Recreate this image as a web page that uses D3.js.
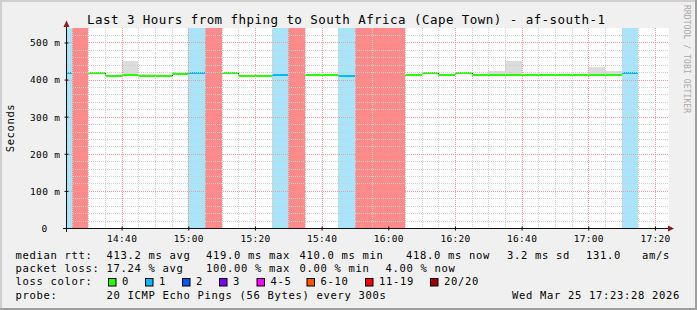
<!DOCTYPE html>
<html><head><meta charset="utf-8">
<script src="https://cdn.jsdelivr.net/npm/d3@7/dist/d3.min.js"></script>
<style>
body{margin:0;background:#f0f0f0;overflow:hidden}
text{font-family:"DejaVu Sans Mono",monospace;white-space:pre}
</style>
</head><body>
<svg id="c" width="697" height="310"></svg>
<script>
// ---------------- data ----------------
const titleText = "Last 3 Hours from fhping to South Africa (Cape Town) - af-south-1";
const yTitle = "Seconds";
const viewStart = Date.UTC(2026, 2, 25, 14, 23, 28);
const viewEnd = Date.UTC(2026, 2, 25, 17, 23, 28);
const firstStep = Date.UTC(2026, 2, 25, 14, 20, 0);
const stepMinutes = 5;
// median RTT per 5-minute step (ms); null = no data
const medianMs = [419, null, 419, 410, 412, 410, 410, 414, 417, null, 419, 410, 410, 412, null, 412, 412, 410, null, null, null, 412, 419, 412, 419, 412, 412, 412, 412, 412, 412, 412, 412, 412, 418, null, null];
// lost pings (of 20) per step
const lossCount = [1, 20, 0, 0, 0, 0, 0, 0, 1, 20, 0, 0, 0, 1, 20, 0, 0, 1, 20, 20, 20, 0, 0, 0, 0, 0, 0, 0, 0, 0, 0, 0, 0, 0, 1, null, null];
// upper edge of smoke per step (ms)
const smokeMaxMs = [null, null, null, null, 451, 414, null, null, null, null, null, 413, null, null, null, 414, null, null, null, null, null, null, null, null, null, null, 422, 450, null, null, null, null, 433, 422, null, null, null];
const yMaxMs = 539;
const yTickValues = [0, 100, 200, 300, 400, 500];
const yTickLabels = ["0", "100 m", "200 m", "300 m", "400 m", "500 m"];
const xTickLabels = ["14:40", "15:00", "15:20", "15:40", "16:00", "16:20", "16:40", "17:00", "17:20"];
const rttLabel = "median rtt:";
const rttStats = ["413.2 ms avg", "419.0 ms max", "410.0 ms min", "418.0 ms now", "3.2 ms sd", "131.0   am/s"];
const lossLabel = "packet loss:";
const lossStats = ["17.24 % avg", "100.00 % max", "0.00 % min", "4.00 % now"];
const lossColorLabel = "loss color:";
const lossBucketLabels = ["0", "1", "2", "3", "4-5", "6-10", "11-19", "20/20"];
const probeLabel = "probe:";
const probeText = "20 ICMP Echo Pings (56 Bytes) every 300s";
const stampText = "Wed Mar 25 17:23:28 2026";
const watermark = "RRDTOOL / TOBI OETIKER";

// ---------------- styles ----------------
const lossColors = ["#26ff00", "#00b8ff", "#0059ff", "#7e00ff", "#ff00ff", "#ff5500", "#ff0000", "#a10000"];
const bandColors = {1: "#a8e5fa", 20: "#ff8a8a"};
function bucket(l){ if(l<=3) return l; if(l<=5) return 4; if(l<=10) return 5; if(l<=19) return 6; return 7; }

const svg = d3.select("#c");
const L = 67, R = 669, T = 28, B = 228;

// background + 3D frame
svg.append("rect").attr("width",697).attr("height",310).attr("fill","#f0f0f0");
svg.append("rect").attr("x",0).attr("y",0).attr("width",697).attr("height",2).attr("fill","#cfcfcf");
svg.append("rect").attr("x",0).attr("y",0).attr("width",2).attr("height",310).attr("fill","#cfcfcf");
svg.append("rect").attr("x",0).attr("y",308).attr("width",697).attr("height",2).attr("fill","#9e9e9e");
svg.append("rect").attr("x",695).attr("y",0).attr("width",2).attr("height",310).attr("fill","#9e9e9e");

// canvas
svg.append("rect").attr("x",L).attr("y",T).attr("width",R-L).attr("height",B-T).attr("fill","#ffffff");

const x = d3.scaleUtc().domain([viewStart, viewEnd]).range([66.5, 666.5]);
const y = d3.scaleLinear().domain([0, yMaxMs]).range([B, T]);

svg.append("clipPath").attr("id","pc").append("rect").attr("x",L).attr("y",T).attr("width",R-L).attr("height",B-T);
const plot = svg.append("g").attr("clip-path","url(#pc)");

const steps = medianMs.map((m,i)=>({
  t0: firstStep + i*stepMinutes*60000,
  t1: firstStep + (i+1)*stepMinutes*60000,
  m, loss: lossCount[i], smoke: smokeMaxMs[i]
}));
const px = t => Math.round(x(t));

// loss bands
plot.selectAll("rect.band").data(steps.filter(d=>d.loss!=null && bandColors[d.loss]))
  .join("rect").attr("class","band")
  .attr("x", d=>px(d.t0)).attr("width", d=>px(d.t1)-px(d.t0))
  .attr("y",T).attr("height",B-T).attr("fill", d=>bandColors[d.loss]);

// smoke
plot.selectAll("rect.smoke").data(steps.filter(d=>d.smoke!=null && d.m!=null))
  .join("rect").attr("class","smoke")
  .attr("x", d=>px(d.t0)).attr("width", d=>px(d.t1)-px(d.t0))
  .attr("y", d=>Math.round(y(d.smoke))).attr("height", d=>Math.round(y(d.m))-Math.round(y(d.smoke)))
  .attr("fill","#dcdcdc");

// grid
const grid = svg.append("g");
for(let t = Date.UTC(2026,2,25,14,25,0); t <= viewEnd; t += 5*60000){
  const major = (new Date(t).getUTCMinutes() % 20) === 0;
  const gx = px(t)+0.5;
  grid.append("line").attr("x1",gx).attr("x2",gx).attr("y1",T).attr("y2",B)
    .attr("stroke", major ? "#f29a9a" : "#cfcfcf").attr("stroke-dasharray","1,1");
}
for(let v = 20; v <= yMaxMs; v += 20){
  const major = v % 100 === 0;
  const gy = Math.round(y(v))+0.5;
  grid.append("line").attr("x1",L).attr("x2",R).attr("y1",gy).attr("y2",gy)
    .attr("stroke", major ? "#f29a9a" : "#cfcfcf").attr("stroke-dasharray","1,1");
}

// median line: vertical connectors then coloured steps
const lines = plot.append("g");
for(let i=1;i<steps.length;i++){
  const a = steps[i-1], b = steps[i];
  if(a.m!=null && b.m!=null && a.m!==b.m){
    const vx = px(b.t0)+0.5;
    lines.append("line").attr("x1",vx).attr("x2",vx)
      .attr("y1",Math.round(y(a.m))).attr("y2",Math.round(y(b.m)))
      .attr("stroke","#333").attr("stroke-width",1);
  }
}
lines.selectAll("line.med").data(steps.filter(d=>d.m!=null))
  .join("line").attr("class","med")
  .attr("x1", d=>px(d.t0)).attr("x2", d=>px(d.t1))
  .attr("y1", d=>Math.round(y(d.m))).attr("y2", d=>Math.round(y(d.m)))
  .attr("stroke", d=>lossColors[bucket(d.loss)]).attr("stroke-width",2);

// axes lines + arrows
const axisColor = "#101010", arrowColor = "#8e1b1b";
svg.append("line").attr("x1",63).attr("x2",670).attr("y1",B+0.5).attr("y2",B+0.5).attr("stroke",axisColor);
svg.append("line").attr("x1",66.5).attr("x2",66.5).attr("y1",B+4).attr("y2",24).attr("stroke",axisColor);
svg.append("path").attr("d",`M${668},${B-2.5} L${674},${B+0.5} L${668},${B+3.5} Z`).attr("fill",arrowColor);
svg.append("path").attr("d",`M${63.5},${27} L${66.5},${20.5} L${69.5},${27} Z`).attr("fill",arrowColor);

// x axis
const xTickDates = xTickLabels.map(s=>{const [h,m]=s.split(":").map(Number); return Date.UTC(2026,2,25,h,m,0);});
const xa = svg.append("g").attr("transform",`translate(0,${B+0.5})`)
  .call(d3.axisBottom(x).tickValues(xTickDates).tickSize(2).tickPadding(0)
    .tickFormat((d,i)=>xTickLabels[i]));
xa.select(".domain").remove();
xa.selectAll(".tick line").attr("stroke",axisColor).attr("y1",-2).attr("y2",2);
xa.selectAll(".tick text").attr("y",13).attr("dy",0)
  .attr("font-family","DejaVu Sans Mono").attr("font-size","9.5px").attr("letter-spacing","0.3px").attr("fill","#000");

// y axis
const ya = svg.append("g").attr("transform",`translate(66.5,0)`)
  .call(d3.axisLeft(y).tickValues(yTickValues).tickSize(2).tickPadding(0)
    .tickFormat((d,i)=>yTickLabels[i]));
ya.select(".domain").remove();
ya.selectAll(".tick line").attr("stroke",axisColor).attr("x1",-2).attr("x2",2);
ya.selectAll(".tick text").attr("x", d=> d===0 ? -19 : -6).attr("dy","0.36em")
  .attr("font-family","DejaVu Sans Mono").attr("font-size","9.5px").attr("letter-spacing","0.4px").attr("fill","#000");

// texts
function txt(s, tx, ty, size, ls, extra){
  const t = svg.append("text").attr("x",tx).attr("y",ty).attr("font-size",size+"px")
    .attr("letter-spacing",ls+"px").attr("fill","#000").text(s);
  if(extra) extra(t);
  return t;
}
txt(titleText, 87, 23.5, 12.5, 0.45);
svg.append("text").attr("transform","translate(14,128) rotate(-90)").attr("text-anchor","middle")
  .attr("font-size","10.5px").attr("letter-spacing","0.6px").attr("fill","#000").text(yTitle);
svg.append("text").attr("transform","translate(684,5) rotate(90)")
  .attr("font-size","8px").attr("letter-spacing","0.1px").attr("fill","#a8a8a8").text(watermark);

const fs = 10.5, ls = 0.68;
const rowY = [258.5, 271.8, 285.2, 298.5];
txt(rttLabel, 15.5, rowY[0], fs, ls);
const rttX = [106.5, 206, 299.5, 406, 507, 586];
rttStats.forEach((s,i)=>txt(s, rttX[i], rowY[0], fs, ls));
txt(lossLabel, 15.5, rowY[1], fs, ls);
const lossX = [106.5, 206, 299.5, 385.5];
lossStats.forEach((s,i)=>txt(s, lossX[i], rowY[1], fs, ls));
txt(lossColorLabel, 15.5, rowY[2], fs, ls);
const swX = [108, 145, 182, 219, 256.5, 306.5, 365, 430];
lossBucketLabels.forEach((s,i)=>{
  svg.append("rect").attr("x",swX[i]+0.5).attr("y",278.5).attr("width",7.5).attr("height",7.5)
    .attr("fill",lossColors[i]).attr("stroke","#000").attr("stroke-width",1);
  txt(s, swX[i]+14, rowY[2], fs, ls);
});
txt(probeLabel, 15.5, rowY[3], fs, ls);
txt(probeText, 106.5, rowY[3], fs, ls);
txt(stampText, 512, rowY[3], fs, ls);
</script>
</body></html>
